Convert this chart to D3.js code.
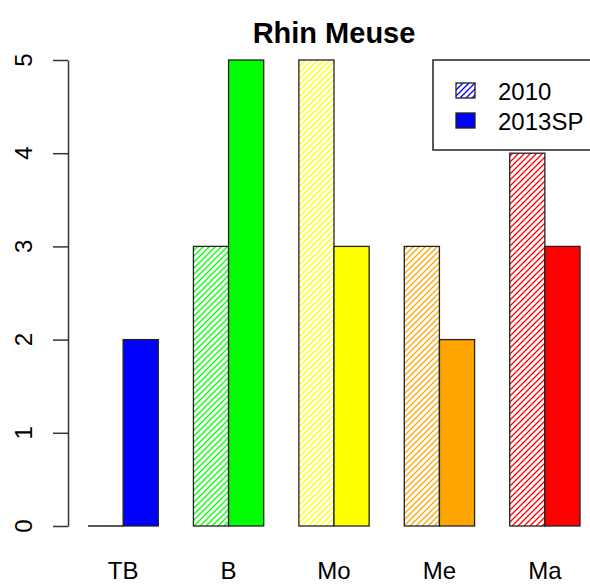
<!DOCTYPE html>
<html>
<head>
<meta charset="utf-8">
<script src="https://cdn.jsdelivr.net/npm/d3@7/dist/d3.min.js"></script>
<style>
  body { margin: 0; background: #fff; }
  svg { display: block; }
</style>
</head>
<body>
<svg id="chart" width="590" height="585"></svg>
<script>
var categories = ["TB", "B", "Mo", "Me", "Ma"];
var v2010 = [0, 3, 5, 3, 4];
var v2013 = [2, 5, 3, 2, 3];
var barColors = ["#0000FF", "#00FF00", "#FFFF00", "#FFA500", "#FF0000"];
var seriesNames = ["2010", "2013SP"];
var yTicks = [0, 1, 2, 3, 4, 5];

var svg = d3.select("#chart");
var font = "Liberation Sans, Arial, sans-serif";

// R barplot units: each group = 1 space + 2 bars
var x = d3.scaleLinear().domain([1, 15]).range([88, 580]);
var y = d3.scaleLinear().domain([0, 5]).range([526, 60]);

// hatch patterns (density lines like R)
var defs = svg.append("defs");
barColors.forEach(function(c, i) {
  var p = defs.append("pattern")
      .attr("id", "hatch" + i)
      .attr("patternUnits", "userSpaceOnUse")
      .attr("width", 6)
      .attr("height", 6);
  p.append("path")
      .attr("d", "M-1,1 l2,-2 M0,6 l6,-6 M5,7 l2,-2")
      .attr("stroke", c)
      .attr("stroke-width", 1.3);
});

var g = svg.append("g");

function drawBar(x0, x1, v, fill) {
  if (v === 0) {
    g.append("line")
      .attr("x1", x0).attr("x2", x1)
      .attr("y1", y(0)).attr("y2", y(0))
      .attr("stroke", "#222")
      .attr("stroke-width", 1.3);
    return;
  }
  g.append("rect")
    .attr("x", x0)
    .attr("y", y(v))
    .attr("width", x1 - x0)
    .attr("height", y(0) - y(v))
    .attr("fill", fill)
    .attr("stroke", "#222")
    .attr("stroke-width", 1.3);
}

// bars
categories.forEach(function(cat, i) {
  var start = 1 + i * 3;
  drawBar(x(start), x(start + 1), v2010[i], "url(#hatch" + i + ")");
  drawBar(x(start + 1), x(start + 2), v2013[i], barColors[i]);

  // category label
  svg.append("text")
    .attr("x", x(start + 1))
    .attr("y", 579)
    .attr("text-anchor", "middle")
    .style("font-family", font)
    .style("font-size", "24px")
    .attr("fill", "#000")
    .text(cat);
});

// y axis
var yAxis = svg.append("g")
  .attr("transform", "translate(68,0)")
  .call(d3.axisLeft(y).tickValues(yTicks).tickSize(15).tickSizeOuter(0).tickFormat(""));
yAxis.select(".domain").attr("stroke", "#333").attr("stroke-width", 1.5);
yAxis.selectAll(".tick line").attr("stroke", "#333").attr("stroke-width", 1.5);

yTicks.forEach(function(t) {
  svg.append("text")
    .attr("transform", "translate(32," + y(t) + ") rotate(-90)")
    .attr("text-anchor", "middle")
    .style("font-family", font)
    .style("font-size", "24px")
    .attr("fill", "#000")
    .text(t);
});

// title
svg.append("text")
  .attr("x", 334)
  .attr("y", 43)
  .attr("text-anchor", "middle")
  .style("font-family", font)
  .style("font-size", "29px")
  .style("font-weight", "bold")
  .attr("fill", "#000")
  .text("Rhin Meuse");

// legend
var leg = svg.append("g");
leg.append("rect")
  .attr("x", 433).attr("y", 60)
  .attr("width", 170).attr("height", 90)
  .attr("fill", "#fff")
  .attr("stroke", "#222")
  .attr("stroke-width", 1.5);
seriesNames.forEach(function(name, i) {
  var yy = 83 + i * 30;
  leg.append("rect")
    .attr("x", 456).attr("y", yy)
    .attr("width", 19).attr("height", 15)
    .attr("fill", i === 0 ? "url(#hatch0)" : barColors[0])
    .attr("stroke", "#222")
    .attr("stroke-width", 1.3);
  leg.append("text")
    .attr("x", 498)
    .attr("y", yy + 17)
    .style("font-family", font)
    .style("font-size", "24px")
    .attr("fill", "#000")
    .text(name);
});
</script>
</body>
</html>
